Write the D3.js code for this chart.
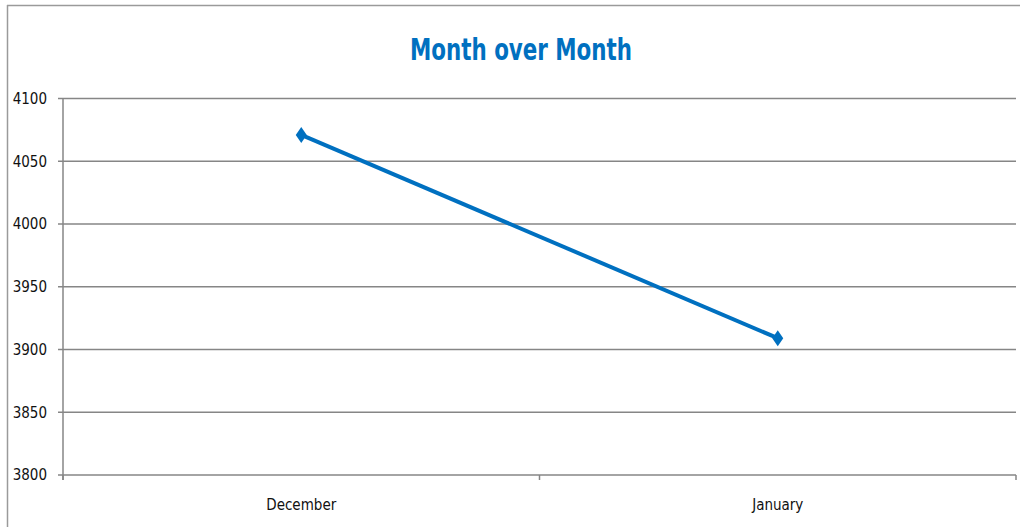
<!DOCTYPE html>
<html>
<head>
<meta charset="utf-8">
<script src="https://cdn.jsdelivr.net/npm/d3@7"></script>
<style>
  body { margin: 0; background: #fff; }
  svg { display: block; }
</style>
</head>
<body>
<svg id="chart"></svg>
<script>
// data
var months = ["December", "January"]
var counts = [4071, 3909]
var yTicks = [3800, 3850, 3900, 3950, 4000, 4050, 4100]
var chartTitle = "Month over Month"

var width = 1020
var height = 527
var margin = {top: 98.5, right: 4, bottom: 52, left: 63}

var svg = d3.select("#chart")
  .attr("width", width)
  .attr("height", height)

var font = "'Liberation Sans Narrow', 'DejaVu Sans Condensed', sans-serif"

// outer chart frame (only top and left visible)
svg.append("line").attr("x1", 7).attr("x2", width).attr("y1", 5.5).attr("y2", 5.5)
  .attr("stroke", "#9a9a9a").attr("stroke-width", 1.5)
svg.append("line").attr("x1", 7.5).attr("x2", 7.5).attr("y1", 5).attr("y2", height)
  .attr("stroke", "#9a9a9a").attr("stroke-width", 1.5)

var x = d3.scaleBand().domain(months)
  .range([margin.left, width - margin.right])

var y = d3.scaleLinear().domain([3800, 4100])
  .range([height - margin.bottom, margin.top])

// gridlines
svg.append("g")
  .selectAll("line")
  .data(yTicks)
  .enter()
  .append("line")
  .attr("x1", margin.left - 5)
  .attr("x2", width - margin.right)
  .attr("y1", d => y(d))
  .attr("y2", d => y(d))
  .attr("stroke", "#868686")
  .attr("stroke-width", 1.5)

// y axis line
svg.append("line")
  .attr("x1", margin.left).attr("x2", margin.left)
  .attr("y1", y(4100)).attr("y2", y(3800) + 5)
  .attr("stroke", "#868686").attr("stroke-width", 1.5)

// x ticks at category boundaries
var bounds = [margin.left].concat(months.map(m => x(m) + x.bandwidth()))
svg.append("g")
  .selectAll("line")
  .data(bounds)
  .enter()
  .append("line")
  .attr("x1", d => d).attr("x2", d => d)
  .attr("y1", y(3800)).attr("y2", y(3800) + 5)
  .attr("stroke", "#868686").attr("stroke-width", 1.5)

// y labels
svg.append("g")
  .selectAll("text")
  .data(yTicks)
  .enter()
  .append("text")
  .attr("x", 47)
  .attr("y", d => y(d))
  .attr("dy", "0.35em")
  .attr("text-anchor", "end")
  .attr("font-family", font)
  .attr("font-size", 15)
  .attr("fill", "#111")
  .text(d => d)

// x labels
svg.append("g")
  .selectAll("text")
  .data(months)
  .enter()
  .append("text")
  .attr("x", d => x(d) + x.bandwidth() / 2)
  .attr("y", 510)
  .attr("text-anchor", "middle")
  .attr("font-family", font)
  .attr("font-size", 15)
  .attr("fill", "#111")
  .text(d => d)

// title
svg.append("text")
  .attr("x", 521)
  .attr("y", 60)
  .attr("text-anchor", "middle")
  .attr("font-family", font)
  .attr("font-weight", "bold")
  .attr("font-size", 30)
  .attr("fill", "#0070c0")
  .attr("textLength", 222)
  .attr("lengthAdjust", "spacingAndGlyphs")
  .text(chartTitle)

// series
var pts = months.map((m, i) => ({m: m, v: counts[i]}))
var line = d3.line().x(d => x(d.m) + x.bandwidth() / 2).y(d => y(d.v))

svg.append("path")
  .datum(pts)
  .attr("d", line)
  .attr("fill", "none")
  .attr("stroke", "#0070c0")
  .attr("stroke-width", 4)

svg.append("g")
  .selectAll("path")
  .data(pts)
  .enter()
  .append("path")
  .attr("transform", d => "translate(" + (x(d.m) + x.bandwidth() / 2) + "," + y(d.v) + ")")
  .attr("d", "M0,-8 L5.5,0 L0,8 L-5.5,0 Z")
  .attr("fill", "#0070c0")
</script>
</body>
</html>
